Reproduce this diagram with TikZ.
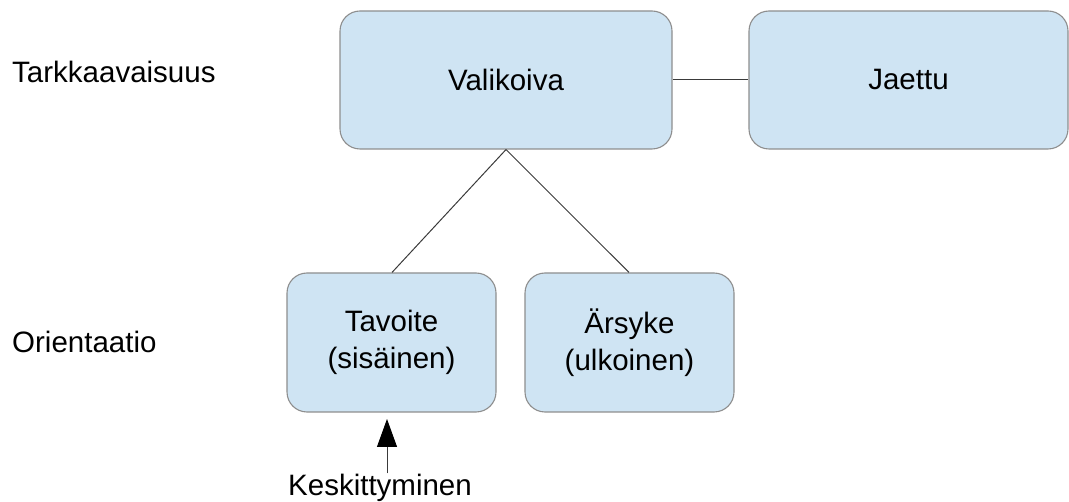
\documentclass[tikz,border=0pt]{standalone}
\usepackage{fontspec}
\setmainfont{Liberation Sans}
\usetikzlibrary{arrows.meta}
\definecolor{boxfill}{HTML}{CFE4F3}
\definecolor{boxdraw}{HTML}{8E8E8E}
\definecolor{linecol}{HTML}{3A3A3A}
\begin{document}
\begin{tikzpicture}[x=1pt,y=-1pt,
  every node/.style={font=\fontsize{29.5}{37}\selectfont, inner sep=0pt},
  box/.style={draw=boxdraw, fill=boxfill, line width=1.1pt, rounded corners=20pt, align=center},
  lab/.style={anchor=base west},
  conn/.style={draw=linecol, line width=1pt}]
\useasboundingbox (0,0) rectangle (1069,502);
\node[box, minimum width=332pt, minimum height=138pt] (val) at (506,80) {Valikoiva};
\node[box, minimum width=319pt, minimum height=138pt] (jae) at (908.5,80) {Jaettu};
\node[box, minimum width=209pt, minimum height=139pt] (tav) at (391.5,342.5) {Tavoite\\(sisäinen)};
\node[box, minimum width=209pt, minimum height=139pt] (ars) at (629.5,342.5) {Ärsyke\\(ulkoinen)};
\node[lab] (tark) at (12,83) {Tarkkaavaisuus};
\node[lab] (ori) at (12,353) {Orientaatio};
\node[anchor=base] (kes) at (380,496) {Keskittyminen};
\coordinate (tip) at (387,419);
\draw[conn] (val.east) -- (jae.west);
\draw[conn] (val.south) -- (tav.north -| 392,0);
\draw[conn] (val.south) -- (ars.north -| 629,0);
\draw[conn, -{Triangle[width=20pt,length=28pt,black]}] (kes.north -| tip) ++(0,-1) -- (tip);
\end{tikzpicture}
\end{document}
